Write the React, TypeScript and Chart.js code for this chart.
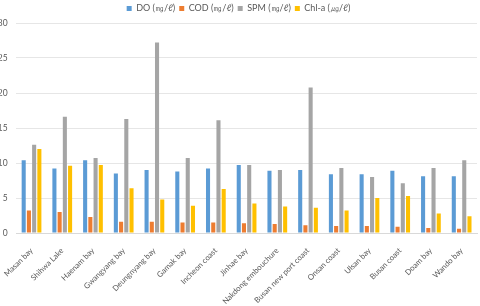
import React, { useEffect, useRef } from "react";
import { Chart, registerables } from "chart.js";

Chart.register(...registerables);

const categories = [
  "Masan bay",
  "Shihwa Lake",
  "Haenam bay",
  "Gwangyang bay",
  "Deungnyang bay",
  "Gamak bay",
  "Incheon coast",
  "Jinhae bay",
  "Nakdong embouchure",
  "Busan new port coast",
  "Onsan coast",
  "Ulsan bay",
  "Busan coast",
  "Doam bay",
  "Wando bay",
];

const doValues = [10.4, 9.2, 10.4, 8.5, 9.0, 8.8, 9.2, 9.7, 8.9, 9.0, 8.4, 8.4, 8.9, 8.1, 8.1];
const codValues = [3.2, 3.0, 2.3, 1.6, 1.6, 1.5, 1.5, 1.4, 1.3, 1.1, 1.0, 1.0, 0.9, 0.7, 0.6];
const spmValues = [12.6, 16.6, 10.7, 16.3, 27.2, 10.7, 16.1, 9.7, 9.0, 20.8, 9.3, 8.0, 7.1, 9.3, 10.4];
const chlValues = [12.0, 9.6, 9.7, 6.4, 4.8, 3.9, 6.3, 4.2, 3.8, 3.6, 3.2, 5.0, 5.3, 2.8, 2.4];

const seriesLabels = ["DO (㎎/ℓ)", "COD (㎎/ℓ)", "SPM (㎎/ℓ)", "Chl-a (㎍/ℓ)"];
const yTicks = [0, 5, 10, 15, 20, 25, 30];

export default function App() {
  const ref = useRef<HTMLCanvasElement | null>(null);

  useEffect(() => {
    if (!ref.current) return;
    const family = "Lato, 'Open Sans', sans-serif";
    const colors = ["#5B9BD5", "#ED7D31", "#A5A5A5", "#FFC000"];
    const values = [doValues, codValues, spmValues, chlValues];
    const chart = new Chart(ref.current, {
      type: "bar",
      data: {
        labels: categories,
        datasets: values.map((v, i) => ({
          label: seriesLabels[i],
          data: v,
          backgroundColor: colors[i],
          borderWidth: 0,
          categoryPercentage: 0.68,
          barPercentage: 0.78,
        })),
      },
      options: {
        animation: false,
        responsive: true,
        maintainAspectRatio: false,
        layout: { padding: { top: 0, right: 3, left: 0, bottom: 0 } },
        plugins: {
          legend: {
            position: "top",
            labels: {
              boxWidth: 5,
              boxHeight: 5,
              font: { family, size: 9 },
              color: "#595959",
              padding: 4,
            },
          },
          tooltip: { enabled: false },
        },
        scales: {
          x: {
            grid: { display: false },
            border: { display: true, color: "#D9D9D9" },
            afterFit: (s: any) => {
              s.height = 73;
            },
            ticks: {
              autoSkip: false,
              maxRotation: 45,
              minRotation: 45,
              font: { family, size: 7.8 },
              color: "#595959",
              padding: 5,
            },
          },
          y: {
            min: 0,
            max: 30,
            afterFit: (s: any) => {
              s.width = 16;
            },
            afterBuildTicks: (s: any) => {
              s.ticks = yTicks.map((v) => ({ value: v }));
            },
            grid: { color: "#E6E6E6", drawTicks: false },
            border: { display: false },
            ticks: { font: { family, size: 8.5 }, color: "#595959", padding: 8.5 },
          },
        },
      },
    });
    return () => chart.destroy();
  }, []);

  return (
    <div style={{ position: "absolute", left: 0, top: 0, width: 480, height: 306 }}>
      <canvas ref={ref} />
    </div>
  );
}
